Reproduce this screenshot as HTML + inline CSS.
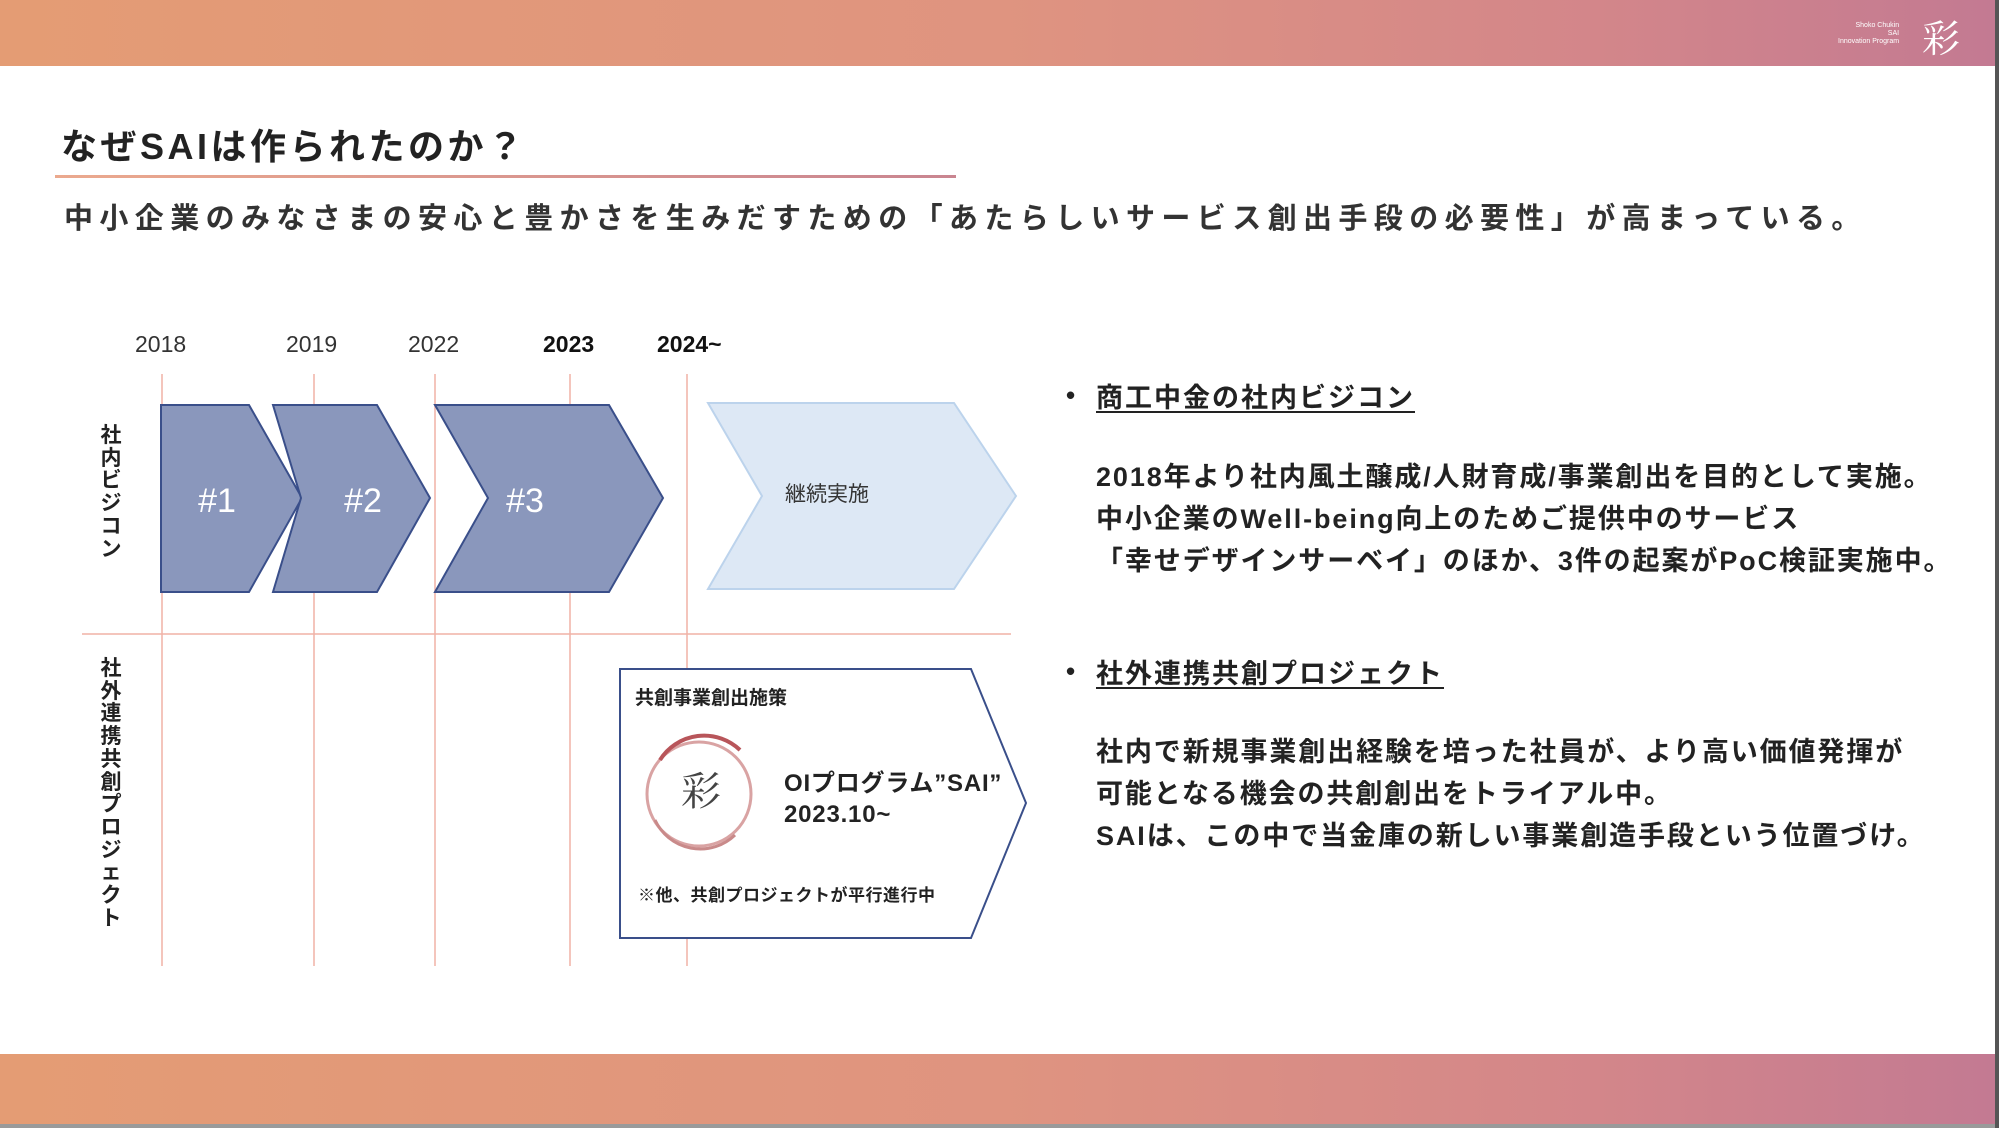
<!DOCTYPE html>
<html><head><meta charset="utf-8">
<style>
html,body{margin:0;padding:0;}
body{width:1999px;height:1128px;position:relative;background:#fff;overflow:hidden;font-family:"Liberation Sans","Noto Sans CJK JP",sans-serif;color:#222;}
.band{position:absolute;left:0;width:1995px;background:linear-gradient(90deg,#e49c74 0%,#df9480 50%,#d3868a 80%,#c37a92 100%);}
.t{position:absolute;white-space:nowrap;font-weight:bold;}
.vl{position:absolute;font-weight:bold;font-size:21px;width:24px;line-height:22.7px;text-align:center;}
</style></head><body>
<div class="band" style="top:0;height:66px;"></div>
<div class="band" style="top:1054px;height:70px;"></div>
<div style="position:absolute;left:0;top:1124px;width:1999px;height:4px;background:#9a9a9a;"></div>
<div style="position:absolute;left:1995px;top:0;width:4px;height:1128px;background:#555;"></div>
<div class="t" style="left:1838px;top:22px;font-size:7px;color:#fff;font-weight:normal;line-height:8px;text-align:right;">Shoko Chukin<br>SAI<br>Innovation Program</div>
<div class="t" style="left:1922px;top:8px;font-size:38px;color:#fff;font-family:'Noto Serif CJK SC',serif;font-weight:normal;">彩</div>

<div class="t" style="left:61px;top:118px;font-size:36px;letter-spacing:3.5px;">なぜSAIは作られたのか？</div>
<div style="position:absolute;left:55px;top:175px;width:901px;height:3px;background:linear-gradient(90deg,#eba98e,#c98590);"></div>
<div class="t" style="left:64px;top:195px;font-size:29px;letter-spacing:6.4px;color:#333;">中小企業のみなさまの安心と豊かさを生みだすための「あたらしいサービス創出手段の必要性」が高まっている。</div>

<svg style="position:absolute;left:0;top:0" width="1999" height="1128">
<g stroke="#f0b2a6" stroke-width="1.5">
<line x1="162" y1="374" x2="162" y2="966"/><line x1="314" y1="374" x2="314" y2="966"/>
<line x1="435" y1="374" x2="435" y2="966"/><line x1="570" y1="374" x2="570" y2="966"/>
<line x1="687" y1="374" x2="687" y2="966"/>
<line x1="82" y1="634" x2="1011" y2="634"/>
</g>
<g fill="#8a97bc" stroke="#3a4f8a" stroke-width="2">
<polygon points="161,405 249,405 302,498 249,592 161,592"/>
<polygon points="273,405 377,405 430,498 377,592 273,592 301,498"/>
<polygon points="435,405 609,405 663,498 609,592 435,592 488,498"/>
</g>
<polygon points="708,403 954,403 1016,496 954,589 708,589 762,496" fill="#dde8f5" stroke="#bcd3ec" stroke-width="2"/>
<polygon points="620,669 971,669 1026,803 971,938 620,938" fill="#fff" stroke="#3a4f8a" stroke-width="2"/>
<g fill="none">
<circle cx="699" cy="794" r="52" stroke="#d9a3a3" stroke-width="3"/>
<path d="M660 760 A52 52 0 0 1 740 750" stroke="#b8555a" stroke-width="4"/>
<path d="M655 820 A50 50 0 0 0 735 835" stroke="#c98a8a" stroke-width="3"/>
</g>
<g font-family="Liberation Sans, Noto Sans CJK JP, sans-serif" font-size="23" fill="#333">
<text x="135" y="352">2018</text><text x="286" y="352">2019</text><text x="408" y="352">2022</text>
<text x="543" y="352" font-weight="bold" fill="#111">2023</text><text x="657" y="352" font-weight="bold" fill="#111">2024~</text>
</g>
<g font-family="Liberation Sans, sans-serif" font-size="34" fill="#fff" text-anchor="middle">
<text x="217" y="512">#1</text><text x="363" y="512">#2</text><text x="525" y="512">#3</text>
</g>
<text x="785" y="501" font-family="Noto Sans CJK JP, sans-serif" font-size="21" fill="#333">継続実施</text>
<text x="681" y="805" font-family="Noto Serif CJK SC, serif" font-size="40" fill="#444">彩</text>
</svg>

<div class="vl" style="left:99px;top:425px;">社内ビジコン</div>
<div class="vl" style="left:99px;top:658px;">社外連携共創プロジェクト</div>

<div class="t" style="left:635px;top:683px;font-size:19px;">共創事業創出施策</div>
<div class="t" style="left:784px;top:768px;font-size:24px;line-height:31px;letter-spacing:0.8px;">OIプログラム”SAI”<br>2023.10~</div>
<div class="t" style="left:638px;top:881px;font-size:17px;letter-spacing:0.5px;">※他、共創プロジェクトが平行進行中</div>

<div class="t" style="left:1066px;top:380px;font-size:26px;">•</div>
<div class="t" style="left:1096px;top:376px;font-size:27px;letter-spacing:2px;text-decoration:underline;text-underline-offset:4px;">商工中金の社内ビジコン</div>
<div class="t" style="left:1096px;top:456px;font-size:27px;line-height:42px;letter-spacing:1.9px;">2018年より社内風土醸成/人財育成/事業創出を目的として実施。<br>中小企業のWell-being向上のためご提供中のサービス<br>「幸せデザインサーベイ」のほか、3件の起案がPoC検証実施中。</div>
<div class="t" style="left:1066px;top:656px;font-size:26px;">•</div>
<div class="t" style="left:1096px;top:652px;font-size:27px;letter-spacing:2px;text-decoration:underline;text-underline-offset:4px;">社外連携共創プロジェクト</div>
<div class="t" style="left:1096px;top:731px;font-size:27px;line-height:42px;letter-spacing:1.9px;">社内で新規事業創出経験を培った社員が、より高い価値発揮が<br>可能となる機会の共創創出をトライアル中。<br>SAIは、この中で当金庫の新しい事業創造手段という位置づけ。</div>
</body></html>
